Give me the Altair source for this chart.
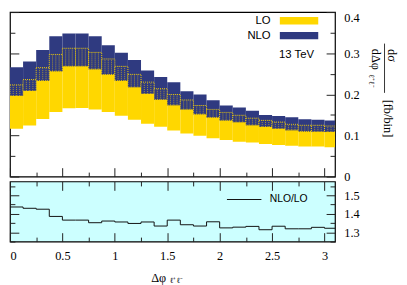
import altair as alt
import pandas as pd

# ---- data ----
edges_lo = [0.0, 0.125, 0.25, 0.375, 0.5, 0.625, 0.75, 0.875, 1.0, 1.125, 1.25, 1.375,
            1.5, 1.625, 1.75, 1.875, 2.0, 2.125, 2.25, 2.375, 2.5, 2.625, 2.75, 2.875, 3.0]
edges_hi = [0.125, 0.25, 0.375, 0.5, 0.625, 0.75, 0.875, 1.0, 1.125, 1.25, 1.375, 1.5,
            1.625, 1.75, 1.875, 2.0, 2.125, 2.25, 2.375, 2.5, 2.625, 2.75, 2.875, 3.0, 3.125]
lo_min = [0.116, 0.124, 0.140, 0.157, 0.166, 0.167, 0.163, 0.157, 0.148, 0.138, 0.1285, 0.121,
          0.112, 0.105, 0.099, 0.093, 0.089, 0.0845, 0.083, 0.079, 0.0765, 0.075, 0.073, 0.073, 0.071]
lo_max = [0.223, 0.236, 0.265, 0.297, 0.312, 0.312, 0.302, 0.286, 0.268, 0.2485, 0.2296, 0.2137,
          0.1995, 0.1862, 0.1728, 0.1633, 0.156, 0.149, 0.142, 0.1366, 0.1325, 0.127, 0.1247, 0.1247, 0.123]
nlo_min = [0.196, 0.208, 0.233, 0.256, 0.268, 0.268, 0.261, 0.248, 0.233, 0.217, 0.201, 0.187,
           0.1735, 0.1633, 0.1515, 0.1437, 0.1366, 0.1318, 0.1247, 0.1207, 0.116, 0.1129, 0.1096, 0.1089, 0.1081]
nlo_max = [0.266, 0.280, 0.308, 0.341, 0.348, 0.348, 0.3415, 0.3195, 0.3013, 0.2833, 0.258, 0.2422,
           0.2296, 0.2076, 0.1995, 0.1853, 0.173, 0.168, 0.160, 0.1498, 0.1475, 0.1444, 0.1396, 0.138, 0.1366]
ratio = [1.437, 1.430, 1.425, 1.386, 1.366, 1.366, 1.352, 1.361, 1.356, 1.348, 1.356, 1.334,
         1.366, 1.341, 1.334, 1.357, 1.324, 1.328, 1.332, 1.314, 1.333, 1.319, 1.319, 1.327, 1.322]

x_major = [0, 0.5, 1, 1.5, 2, 2.5, 3]
x_minor = [0.25, 0.75, 1.25, 1.75, 2.25, 2.75]
y1_major = [0, 0.1, 0.2, 0.3, 0.4]
y1_minor = [0.05, 0.15, 0.25, 0.35]
y2_major = [1.3, 1.4, 1.5]
y2_minor = [1.25, 1.35, 1.45, 1.55]

YELLOW = "#ffd700"
BLUE = "#2f3a80"
CYAN = "#ccffff"
W, H1, H2 = 330, 167, 61
SERIF = "Liberation Serif"
SANS = "Liberation Sans"

bands = pd.DataFrame(dict(x0=edges_lo, x1=edges_hi, lo_min=lo_min, lo_max=lo_max,
                          nlo_min=nlo_min, nlo_max=nlo_max))
hatch_rows = []
for a, b, y0, y1 in zip(edges_lo, edges_hi, nlo_min, lo_max):
    for f in (0.25, 0.5, 0.75):
        hatch_rows.append(dict(x=a + f * (b - a), y0=y0, y1=y1))
hatch = pd.DataFrame(hatch_rows)
ratio_df = pd.DataFrame({"x": edges_lo + [edges_hi[-1]], "r": ratio + [ratio[-1]]})

xs = alt.Scale(domain=[0, 3.1], nice=False, zero=False)
ys1 = alt.Scale(domain=[0, 0.4], nice=False, zero=False)
ys2 = alt.Scale(domain=[1.25, 1.575], nice=False, zero=False)


def band(y, y2, **mk):
    return alt.Chart(bands).mark_rect(clip=True, **mk).encode(
        x=alt.X("x0:Q", scale=xs, axis=None), x2="x1:Q",
        y=alt.Y(f"{y}:Q", scale=ys1, axis=None), y2=f"{y2}:Q")


def tick_axis(orient, values, size):
    return alt.Axis(orient=orient, values=values, tickSize=size, offset=-size, labels=False,
                    domain=False, grid=False, title=None, ticks=True, tickColor="#222",
                    tickWidth=1, zindex=0)


def label_axis(orient, values, expr, pad=9, flush=False):
    return alt.Axis(orient=orient, values=values, ticks=False, domain=False, grid=False,
                    title=None, labelPadding=pad, labelFont=SERIF, labelFontSize=12.5,
                    labelColor="#000", labelFlush=flush, labelOverlap=False, labelExpr=expr,
                    zindex=0)


def axes_layer(data, xf, yf, ys, xaxis, yaxis):
    return alt.Chart(data).mark_point(opacity=0, clip=True).encode(
        x=alt.X(xf, scale=xs, axis=xaxis), y=alt.Y(yf, scale=ys, axis=yaxis))


def text(t, x, y, font, size, align="center", angle=0, baseline="middle"):
    kw = dict(font=font, fontSize=size, align=align, baseline=baseline, color="#000")
    if angle:
        kw["angle"] = angle
    return alt.Chart(pd.DataFrame({"t": [t]})).mark_text(**kw).encode(
        text="t:N", x=alt.value(x), y=alt.value(y))


def box(x, x2, y, y2, color):
    return alt.Chart(pd.DataFrame({"a": [0]})).mark_rect(color=color).encode(
        x=alt.value(x), x2=alt.value(x2), y=alt.value(y), y2=alt.value(y2))


FMT1 = "datum.value == 0 ? '0' : format(datum.value, '.1f')"

top_layers = [
    axes_layer(bands, "x0:Q", "lo_min:Q", ys1, tick_axis("bottom", x_major, 9), tick_axis("left", y1_major, 9)),
    axes_layer(bands, "x0:Q", "lo_min:Q", ys1, tick_axis("bottom", x_minor, 4.5), tick_axis("left", y1_minor, 5)),
    axes_layer(bands, "x0:Q", "lo_min:Q", ys1, None, tick_axis("right", y1_major, 9)),
    axes_layer(bands, "x0:Q", "lo_min:Q", ys1, None, tick_axis("right", y1_minor, 5)),
    axes_layer(bands, "x0:Q", "lo_min:Q", ys1, None, label_axis("right", [0, 0.1, 0.2, 0.3], FMT1)),
    axes_layer(bands, "x0:Q", "lo_min:Q", ys1, None, label_axis("right", [0.4], FMT1, flush=True)),
    band("lo_min", "lo_max", color=YELLOW),
    band("nlo_min", "nlo_max", color=BLUE),
    band("nlo_min", "lo_max", fill=BLUE, stroke=YELLOW, strokeDash=[1, 1], strokeWidth=1, strokeOpacity=0.9),
    alt.Chart(hatch).mark_rule(clip=True, color=YELLOW, strokeDash=[1, 1], strokeWidth=0.8, opacity=0.7).encode(
        x=alt.X("x:Q", scale=xs, axis=None), y=alt.Y("y0:Q", scale=ys1, axis=None), y2="y1:Q"),
    # legend
    text("LO", 264.7, 8.7, SANS, 11.5, align="right"),
    box(274, 313, 5, 12.7, YELLOW),
    text("NLO", 264.7, 24, SANS, 11.5, align="right"),
    box(274, 313, 20.3, 27.7, BLUE),
    text("13 TeV", 308.7, 43.7, SANS, 11.5, align="right"),
    # y title (rotated)
    text("dσ", 388, 44, SERIF, 12.5, angle=90),
    alt.Chart(pd.DataFrame({"a": [0]})).mark_rule(color="#000", strokeWidth=0.8).encode(
        x=alt.value(380.3), y=alt.value(32), y2=alt.value(82)),
    text("dΔφ", 372, 48, SERIF, 12.5, angle=90),
    text("ℓ⁺ℓ⁻", 367, 70, SERIF, 8, angle=90),
    text("[fb/bin]", 383.7, 108, SERIF, 12.5, angle=90),
]
top = alt.layer(*top_layers).resolve_axis(x="independent", y="independent").properties(
    width=W, height=H1, view=alt.ViewBackground(fill="white", stroke="#000", strokeWidth=1.2))

bottom_layers = [
    axes_layer(ratio_df, "x:Q", "r:Q", ys2, tick_axis("bottom", x_major, 9), tick_axis("left", y2_major, 9)),
    axes_layer(ratio_df, "x:Q", "r:Q", ys2, tick_axis("bottom", x_minor, 4.5), tick_axis("left", y2_minor, 5)),
    axes_layer(ratio_df, "x:Q", "r:Q", ys2, tick_axis("top", x_major, 9), tick_axis("right", y2_major, 9)),
    axes_layer(ratio_df, "x:Q", "r:Q", ys2, tick_axis("top", x_minor, 4.5), tick_axis("right", y2_minor, 5)),
    axes_layer(ratio_df, "x:Q", "r:Q", ys2, label_axis("bottom", x_major, "format(datum.value, '~g')", pad=8, flush=True),
               label_axis("right", y2_major, "format(datum.value, '.1f')")),
    alt.Chart(ratio_df).mark_line(interpolate="step-after", clip=True, color="#111", strokeWidth=1).encode(
        x=alt.X("x:Q", scale=xs, axis=None), y=alt.Y("r:Q", scale=ys2, axis=None)),
    alt.Chart(pd.DataFrame({"a": [0]})).mark_rule(color="#111", strokeWidth=1).encode(
        x=alt.value(220.3), x2=alt.value(255.3), y=alt.value(18.3)),
    text("NLO/LO", 263.7, 18.3, SANS, 10.5, align="left"),
    # x title
    text("Δφ", 151, 98, SERIF, 12.5),
    text("ℓ⁺ℓ⁻", 169, 101, SERIF, 8),
]
bottom = alt.layer(*bottom_layers).resolve_axis(x="independent", y="independent").properties(
    width=W, height=H2, view=alt.ViewBackground(fill=CYAN, stroke="#000", strokeWidth=1.2))

chart = alt.vconcat(top, bottom, spacing=5, bounds="flush").properties(padding=0)
chart.save("out.html", embed_options={"renderer": "svg", "actions": False})
